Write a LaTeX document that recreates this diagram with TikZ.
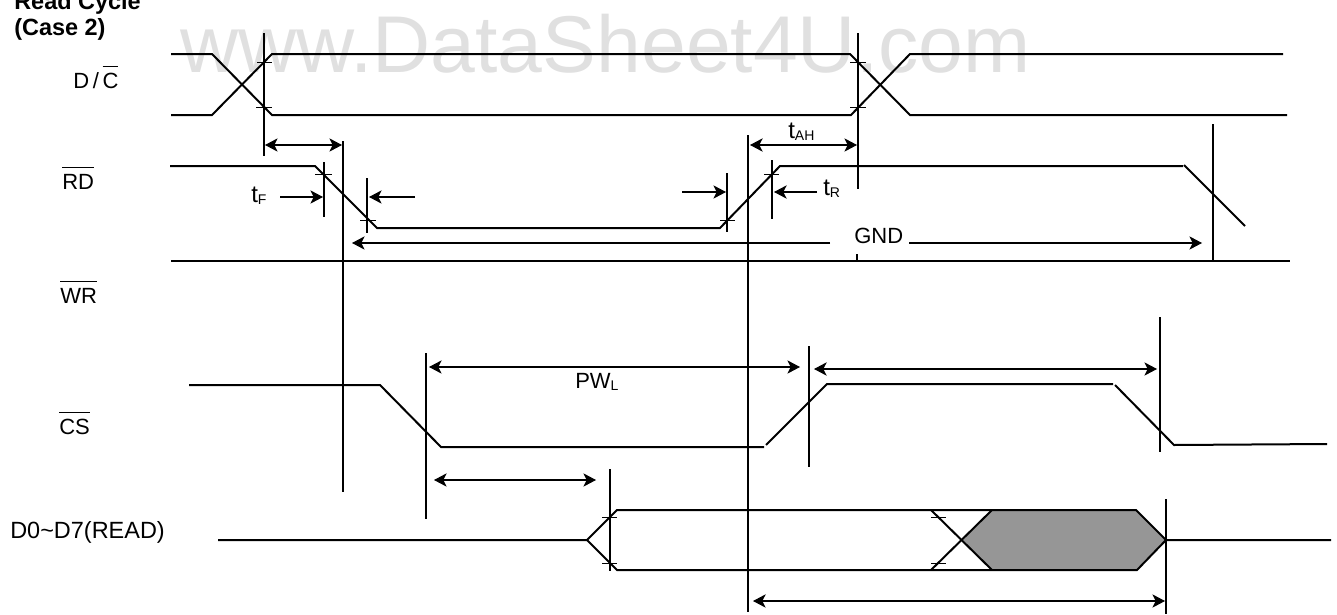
\documentclass[tikz,border=0pt]{standalone}
\usepackage{fontspec}
\setmainfont{Liberation Sans}
\usetikzlibrary{arrows.meta}

\newcommand{\barred}[1]{$\overline{\rule{0pt}{15pt}\mbox{#1}}$}
\newcommand{\lowtxt}[1]{\raisebox{-2pt}{\fontsize{10.5}{11}\selectfont #1}}

\begin{document}
\begin{tikzpicture}[x=0.75pt, y=-0.75pt,
    >={Stealth[length=9.5pt,width=10pt,inset=2.5pt]},
    sig/.style={line width=1.5pt},
    guide/.style={line width=1.1pt},
    hair/.style={line width=0.7pt},
    dim/.style={line width=0.8pt},
    lbl/.style={anchor=base west, inner sep=0pt, font=\fontsize{16.5}{18}\selectfont},
    tlbl/.style={lbl, font=\fontsize{18}{18}\selectfont},
  ]
  \useasboundingbox (0,0) rectangle (1337,614);

  % ---- Watermark ----------------------------------------------
  \node[anchor=base west, inner sep=0pt, text=black!12,
        font=\fontsize{60.4}{60}\selectfont] (mark) at (180,72) {www.DataSheet4U.com};

  % ---- Title and signal names ---------------------------------
  \node[lbl, font=\fontsize{17.6}{18}\selectfont\bfseries] (title1) at (14,9)  {Read Cycle};
  \node[lbl, font=\fontsize{17.6}{18}\selectfont\bfseries] (title2) at (14,35) {(Case 2)};
  \node[lbl] (dc) at (73,88)  {D\,/\,\barred{C}};
  \node[lbl] (rd) at (62,189) {\barred{RD}};
  \node[lbl] (wr) at (60,303) {\barred{WR}};
  \node[lbl] (cs) at (59,434) {\barred{CS}};
  \node[lbl, font=\fontsize{17.6}{18}\selectfont] (data) at (10,538) {D0\textasciitilde D7(READ)};

  % ---- Timing labels ------------------------------------------
  \node[tlbl] (tF)  at (251,202) {t\lowtxt{F}};
  \node[tlbl] (tR)  at (823,195) {t\lowtxt{R}};
  \node[tlbl] (tAH) at (788,138) {t\lowtxt{AH}};
  \node[lbl]  (pwl) at (575,388) {PW\lowtxt{L}};
  \node[lbl]  (gnd) at (854,243) {GND};

  % ---- Shaded part of the data bus ----------------------------
  \fill[black!41] (962,540) -- (992,510) -- (1136,510) -- (1166,540)
    -- (1137,570) -- (992,570) -- cycle;

  % ---- D/C ----------------------------------------------------
  \draw[sig] (171,54) -- (212,54) -- (272,115) -- (851,115) -- (910,54) -- (1283,54);
  \draw[sig] (171,115) -- (212,115) -- (272,54) -- (850,54) -- (910,115) -- (1287,115);

  % ---- RD and WR ----------------------------------------------
  \draw[sig] (170,166) -- (315,166) -- (377,228) -- (720,228) -- (780,166) -- (1183,166);
  \draw[sig] (1184,165) -- (1245,226);
  \draw[sig] (171,261) -- (1290,261);

  % ---- CS -----------------------------------------------------
  \draw[sig] (189,385) -- (380,385) -- (441,447) -- (764,447);
  \draw[sig] (766,445) -- (827,384) -- (1113,384);
  \draw[sig] (1115,385) -- (1174,445) -- (1327,444);

  % ---- Data bus -----------------------------------------------
  \draw[sig] (218,540) -- (587,540) -- (617,510) -- (1136,510) -- (1166,540) -- (1331,540);
  \draw[sig] (587,540) -- (617,570) -- (1137,570) -- (1166,540);
  \draw[sig] (931,510) -- (992,570);
  \draw[sig] (931,570) -- (992,510);

  % ---- Vertical guides ----------------------------------------
  \draw[guide] (264,33) -- (264,156);
  \draw[guide] (343,141) -- (343,492);
  \draw[guide] (858,33) -- (858,189);
  \draw[guide] (748,135) -- (748,612);
  \draw[guide] (324,162) -- (324,217);
  \draw[guide] (367,178) -- (367,233);
  \draw[guide] (727,173) -- (727,232);
  \draw[guide] (772,160) -- (772,219);
  \draw[guide] (1213,124) -- (1213,261);
  \draw[guide] (426,353) -- (426,519);
  \draw[guide] (809,346) -- (809,467);
  \draw[guide] (1160,317) -- (1160,452);
  \draw[guide] (610,469) -- (610,571);
  \draw[guide] (1166,499) -- (1166,614);
  \draw[guide] (857,254) -- (857,261);

  % ---- Small ticks on the slopes ------------------------------
  \draw[hair] (257,62) -- (272,62);
  \draw[hair] (256,107) -- (272,107);
  \draw[hair] (850,62) -- (866,62);
  \draw[hair] (850,107) -- (866,107);
  \draw[hair] (315,174) -- (332,174);
  \draw[hair] (360,220) -- (376,220);
  \draw[hair] (720,220) -- (735,220);
  \draw[hair] (764,174) -- (779,174);
  \draw[hair] (602,517) -- (617,517);
  \draw[hair] (602,563) -- (617,563);
  \draw[hair] (931,517) -- (946,517);
  \draw[hair] (931,563) -- (946,563);

  % ---- Dimension arrows ---------------------------------------
  \draw[dim, <->] (265,145) -- (342,145);
  \draw[dim, <->] (750,145) -- (857,145);
  \draw[dim, ->] (280,197) -- (323,197);
  \draw[dim, ->] (415,197) -- (369,197);
  \draw[dim, ->] (682,192) -- (726,192);
  \draw[dim, ->] (817,192) -- (774,192);
  \draw[dim, ->] (830,243) -- (352,243);
  \draw[dim, ->] (909,243) -- (1202,243);
  \draw[dim, <->] (429,367) -- (800,367);
  \draw[dim, <->] (814,369) -- (1157,369);
  \draw[dim, <->] (434,480) -- (596,480);
  \draw[dim, <->] (753,601) -- (1165,601);

\end{tikzpicture}
\end{document}
